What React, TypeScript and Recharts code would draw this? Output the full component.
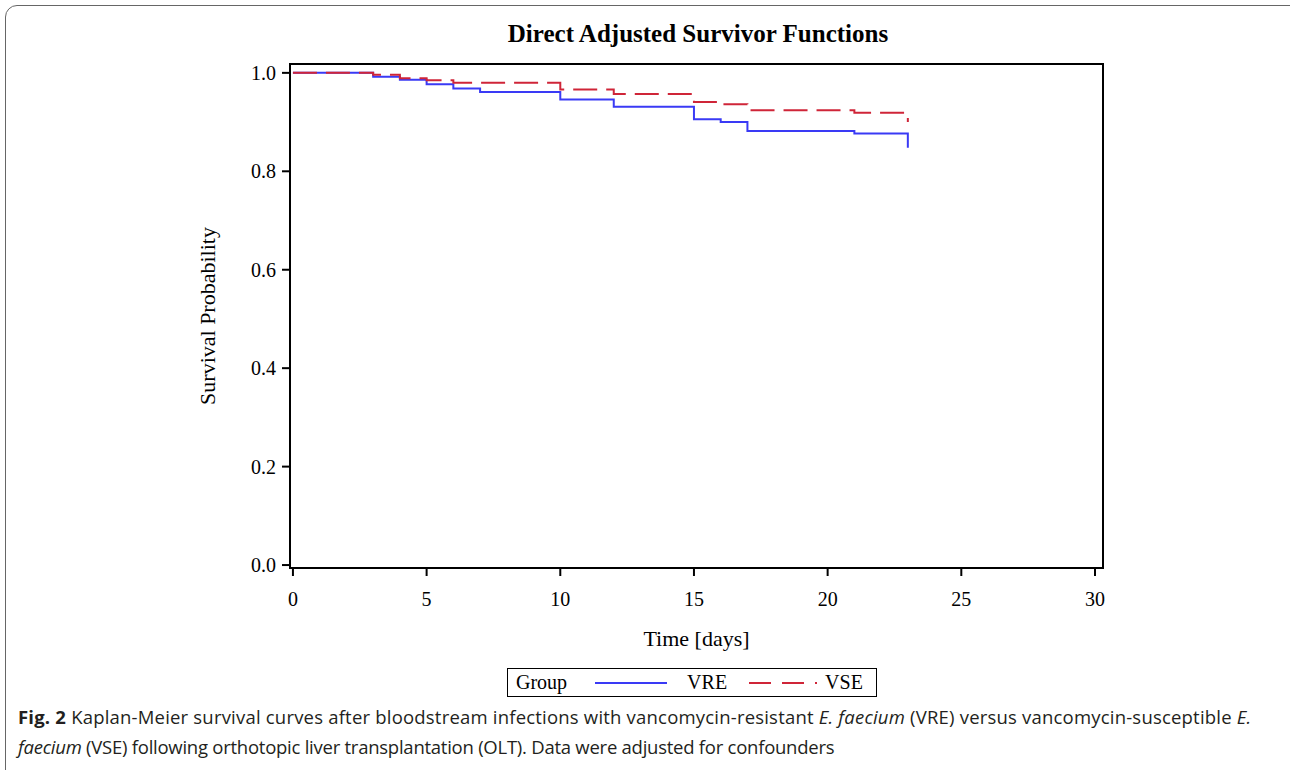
import React from 'react';
import { LineChart, Line, XAxis, YAxis, Label, ReferenceArea } from 'recharts';

// event times (days) and adjusted survival estimates
const vreTimes = [0, 3, 4, 5, 6, 7, 10, 12, 15, 16, 17, 21, 23];
const vreSurvival = [1.0, 0.992, 0.986, 0.977, 0.968, 0.961, 0.946, 0.931, 0.906, 0.9, 0.882, 0.877, 0.848];

const vseTimes = [0, 3, 4, 5, 6, 10, 12, 15, 16, 17, 21, 23];
const vseSurvival = [1.0, 0.996, 0.989, 0.985, 0.98, 0.966, 0.957, 0.941, 0.936, 0.924, 0.919, 0.9];

const xTicks = [0, 5, 10, 15, 20, 25, 30];
const yTicks = [0, 0.2, 0.4, 0.6, 0.8, 1.0];

const X_DOMAIN: [number, number] = [-0.11, 30.3];
const Y_DOMAIN: [number, number] = [-0.006, 1.018];

const vreData = vreTimes.map((t, i) => ({ t, s: vreSurvival[i] }));
const vseData = vseTimes.map((t, i) => ({ t, s: vseSurvival[i] }));

const SERIF = '"Liberation Serif", "Times New Roman", serif';
const SANS = '"Open Sans", "Noto Sans", sans-serif';

const BLUE = '#3a3af5';
const RED = '#cf2538';

const tickStyle = { fill: '#000', fontSize: 20, fontFamily: SERIF };

const LegendBox = () => (
  <div
    style={{
      position: 'absolute',
      left: 507,
      top: 668,
      width: 370,
      height: 29,
      border: '1.5px solid #000',
      boxSizing: 'border-box',
      fontFamily: SERIF,
      fontSize: 20,
      display: 'flex',
      alignItems: 'center',
    }}
  >
    <span style={{ marginLeft: 8 }}>Group</span>
    <svg width={72} height={10} style={{ marginLeft: 28 }}>
      <line x1={0} y1={5} x2={72} y2={5} stroke={BLUE} strokeWidth={2} />
    </svg>
    <span style={{ marginLeft: 20 }}>VRE</span>
    <svg width={68} height={10} style={{ marginLeft: 22 }}>
      <line x1={0} y1={5} x2={68} y2={5} stroke={RED} strokeWidth={2} strokeDasharray="22 11" />
    </svg>
    <span style={{ marginLeft: 8 }}>VSE</span>
  </div>
);

export default function App() {
  return (
    <div style={{ position: 'absolute', left: 0, top: 0, width: 1290, height: 770, overflow: 'hidden', background: '#fff' }}>
      <div
        style={{
          position: 'absolute',
          left: 5,
          top: 5,
          width: 1300,
          height: 800,
          border: '1.5px solid #666',
          borderRadius: 12,
        }}
      />
      <div
        style={{
          position: 'absolute',
          left: 0,
          top: 20,
          width: 1396,
          textAlign: 'center',
          fontFamily: SERIF,
          fontWeight: 'bold',
          fontSize: 25,
        }}
      >
        Direct Adjusted Survivor Functions
      </div>
      <div style={{ position: 'absolute', left: 0, top: 0 }}>
        <LineChart width={1290} height={770} margin={{ top: 64, right: 187, bottom: 112, left: 190 }}>
          <XAxis
            dataKey="t"
            type="number"
            domain={X_DOMAIN}
            ticks={xTicks}
            allowDataOverflow
            height={90}
            tick={tickStyle}
            tickLine={{ stroke: '#000', strokeWidth: 2 }}
            axisLine={{ stroke: '#000', strokeWidth: 2 }}
            tickSize={8}
            tickMargin={16}
          >
            <Label value="Time [days]" position="insideBottom" offset={12} style={{ fill: '#000', fontSize: 22, fontFamily: SERIF }} />
          </XAxis>
          <YAxis
            type="number"
            domain={Y_DOMAIN}
            ticks={yTicks}
            allowDataOverflow
            width={100}
            tick={tickStyle}
            tickFormatter={(v: number) => v.toFixed(1)}
            tickLine={{ stroke: '#000', strokeWidth: 2 }}
            axisLine={{ stroke: '#000', strokeWidth: 2 }}
            tickSize={8}
            tickMargin={6}
          >
            <Label
              value="Survival Probability"
              angle={-90}
              position="insideLeft"
              offset={17}
              style={{ fill: '#000', fontSize: 22, fontFamily: SERIF, textAnchor: 'middle' }}
            />
          </YAxis>
          <ReferenceArea
            x1={X_DOMAIN[0]}
            x2={X_DOMAIN[1]}
            y1={Y_DOMAIN[0]}
            y2={Y_DOMAIN[1]}
            fill="none"
            stroke="#000"
            strokeWidth={2}
            ifOverflow="visible"
          />
          <Line
            data={vreData}
            dataKey="s"
            type="stepAfter"
            stroke={BLUE}
            strokeWidth={2}
            dot={false}
            isAnimationActive={false}
          />
          <Line
            data={vseData}
            dataKey="s"
            type="stepAfter"
            stroke={RED}
            strokeWidth={2}
            strokeDasharray="24 9"
            dot={false}
            isAnimationActive={false}
          />
        </LineChart>
      </div>
      <LegendBox />
      <div style={{ position: 'absolute', left: 18, top: 702, fontFamily: SANS, fontSize: 18.5, color: '#231f20', lineHeight: '30px' }}>
        <div style={{ whiteSpace: 'nowrap', letterSpacing: 0.2 }}>
          <b>Fig. 2</b> Kaplan-Meier survival curves after bloodstream infections with vancomycin-resistant <i>E. faecium</i> (VRE) versus
          vancomycin-susceptible <i>E.</i>
        </div>
        <div style={{ whiteSpace: 'nowrap', letterSpacing: -0.25 }}>
          <i>faecium</i> (VSE) following orthotopic liver transplantation (OLT). Data were adjusted for confounders
        </div>
      </div>
    </div>
  );
}
